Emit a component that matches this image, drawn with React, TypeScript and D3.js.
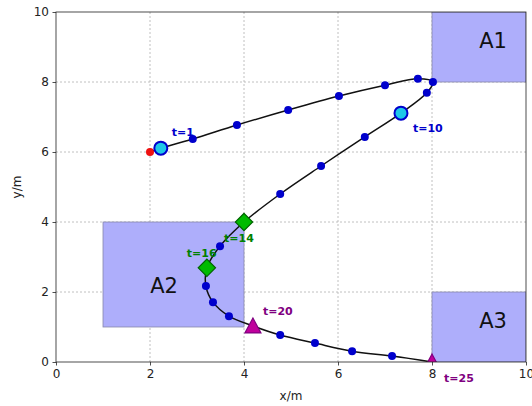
import { useRef, useEffect } from "react";
import * as d3 from "d3";

// trajectory samples, t = 0..25
const xs = [2.0, 2.23, 2.91, 3.85, 4.94, 6.02, 7.0, 7.7, 8.02, 7.89, 7.34, 6.57, 5.64, 4.77, 4.0, 3.49, 3.21, 3.19, 3.34, 3.68, 4.19, 4.77, 5.51, 6.3, 7.15, 8.0];
const ys = [6.0, 6.11, 6.37, 6.77, 7.2, 7.6, 7.91, 8.09, 8.0, 7.69, 7.11, 6.43, 5.6, 4.8, 4.0, 3.31, 2.69, 2.17, 1.71, 1.31, 1.03, 0.77, 0.54, 0.31, 0.17, 0.0];

const areaNames = ["A1", "A2", "A3"];
const areaX0 = [8, 1, 8];
const areaX1 = [10, 4, 10];
const areaY0 = [8, 1, 0];
const areaY1 = [10, 4, 2];

const circleTimes = [1, 10];
const diamondTimes = [14, 16];
const triangleTimes = [20, 25];

const ticks = [0, 2, 4, 6, 8, 10];

export default function App() {
  const svgRef = useRef<SVGSVGElement>(null);

  useEffect(() => {
    if (!svgRef.current) return;
    const svg = d3.select(svgRef.current);
    svg.selectAll("*").remove();

    const left = 56, right = 526, top = 12, bottom = 362;
    const x = d3.scaleLinear().domain([0, 10]).range([left, right]);
    const y = d3.scaleLinear().domain([0, 10]).range([bottom, top]);
    const font = "DejaVu Sans, sans-serif";

    svg.append("defs").append("clipPath").attr("id", "plotclip")
      .append("rect").attr("x", left).attr("y", top)
      .attr("width", right - left).attr("height", bottom - top);

    // grid
    const grid = svg.append("g");
    ticks.slice(1, -1).forEach((v) => {
      grid.append("line").attr("x1", x(v)).attr("x2", x(v)).attr("y1", top).attr("y2", bottom)
        .attr("stroke", "#b0b0b0").attr("stroke-width", 0.8).attr("stroke-dasharray", "2,2");
      grid.append("line").attr("x1", left).attr("x2", right).attr("y1", y(v)).attr("y2", y(v))
        .attr("stroke", "#b0b0b0").attr("stroke-width", 0.8).attr("stroke-dasharray", "2,2");
    });

    const plot = svg.append("g").attr("clip-path", "url(#plotclip)");

    // areas
    areaNames.forEach((name, i) => {
      plot.append("rect")
        .attr("x", x(areaX0[i])).attr("y", y(areaY1[i]))
        .attr("width", x(areaX1[i]) - x(areaX0[i]))
        .attr("height", y(areaY0[i]) - y(areaY1[i]))
        .attr("fill", "#aeaefb").attr("stroke", "#8888aa").attr("stroke-width", 0.8);
      svg.append("text")
        .attr("x", x(areaX0[i] + 1.3))
        .attr("y", y(areaY0[i] + 1.2) + 8)
        .attr("text-anchor", "middle").attr("font-family", font).attr("font-size", 21)
        .attr("fill", "#111").text(name);
    });

    const pts: [number, number][] = xs.map((v, i) => [x(v), y(ys[i])]);
    const line = d3.line().curve(d3.curveCatmullRom.alpha(0.5));
    plot.append("path").attr("d", line(pts)).attr("fill", "none")
      .attr("stroke", "#111").attr("stroke-width", 1.5);

    // plain blue dots
    const special = [0, ...circleTimes, ...diamondTimes, ...triangleTimes];
    pts.forEach((p, t) => {
      if (special.includes(t)) return;
      plot.append("circle").attr("cx", p[0]).attr("cy", p[1]).attr("r", 4).attr("fill", "#0000cc");
    });

    // start point
    plot.append("circle").attr("cx", pts[0][0]).attr("cy", pts[0][1]).attr("r", 4)
      .attr("fill", "#ee1111");

    circleTimes.forEach((t) => {
      plot.append("circle").attr("cx", pts[t][0]).attr("cy", pts[t][1]).attr("r", 6.5)
        .attr("fill", "#1ec8e8").attr("stroke", "#0000cc").attr("stroke-width", 2);
    });
    diamondTimes.forEach((t) => {
      plot.append("path")
        .attr("d", d3.symbol(d3.symbolSquare, 150)())
        .attr("transform", `translate(${pts[t][0]},${pts[t][1]}) rotate(45)`)
        .attr("fill", "#00bb00").attr("stroke", "#006400").attr("stroke-width", 1.2);
    });
    triangleTimes.forEach((t) => {
      const [px, py] = pts[t];
      plot.append("path")
        .attr("d", `M${px},${py - 8}L${px + 8},${py + 7}L${px - 8},${py + 7}Z`)
        .attr("fill", "#c0009c").attr("stroke", "#800080").attr("stroke-width", 1.2);
    });

    // time labels
    const labels: [number, number, number, string][] = [
      [1, 11, -12, "#0000cc"],
      [10, 12, 19, "#0000cc"],
      [14, -20, 20, "#008000"],
      [16, -20, -11, "#008000"],
      [20, 10, -11, "#800080"],
      [25, 12, 20, "#800080"],
    ];
    labels.forEach(([t, dx, dy, c]) => {
      svg.append("text").attr("x", pts[t][0] + dx).attr("y", pts[t][1] + dy)
        .attr("font-family", font).attr("font-size", 11).attr("font-weight", "bold")
        .attr("fill", c).text(`t=${t}`);
    });

    // axes
    const xAxis = svg.append("g").attr("transform", `translate(0,${bottom})`)
      .call(d3.axisBottom(x).tickValues(ticks).tickSize(3.5).tickPadding(3.5));
    const yAxis = svg.append("g").attr("transform", `translate(${left},0)`)
      .call(d3.axisLeft(y).tickValues(ticks).tickSize(3.5).tickPadding(3.5));
    [xAxis, yAxis].forEach((a) => {
      a.select(".domain").remove();
      a.selectAll("text").attr("font-family", font).attr("font-size", 12).attr("fill", "#222");
      a.selectAll("line").attr("stroke", "#222").attr("stroke-width", 0.8);
    });
    svg.append("rect").attr("x", left).attr("y", top).attr("width", right - left)
      .attr("height", bottom - top).attr("fill", "none").attr("stroke", "#222").attr("stroke-width", 0.8);

    svg.append("text").attr("x", (left + right) / 2).attr("y", 400).attr("text-anchor", "middle")
      .attr("font-family", font).attr("font-size", 12).attr("fill", "#222").text("x/m");
    svg.append("text").attr("transform", `translate(21,${(top + bottom) / 2}) rotate(-90)`)
      .attr("text-anchor", "middle").attr("font-family", font).attr("font-size", 12)
      .attr("fill", "#222").text("y/m");
  }, []);

  return (
    <svg ref={svgRef} width={532} height={406}
      style={{ position: "absolute", left: 0, top: 0, background: "#fff" }} />
  );
}
